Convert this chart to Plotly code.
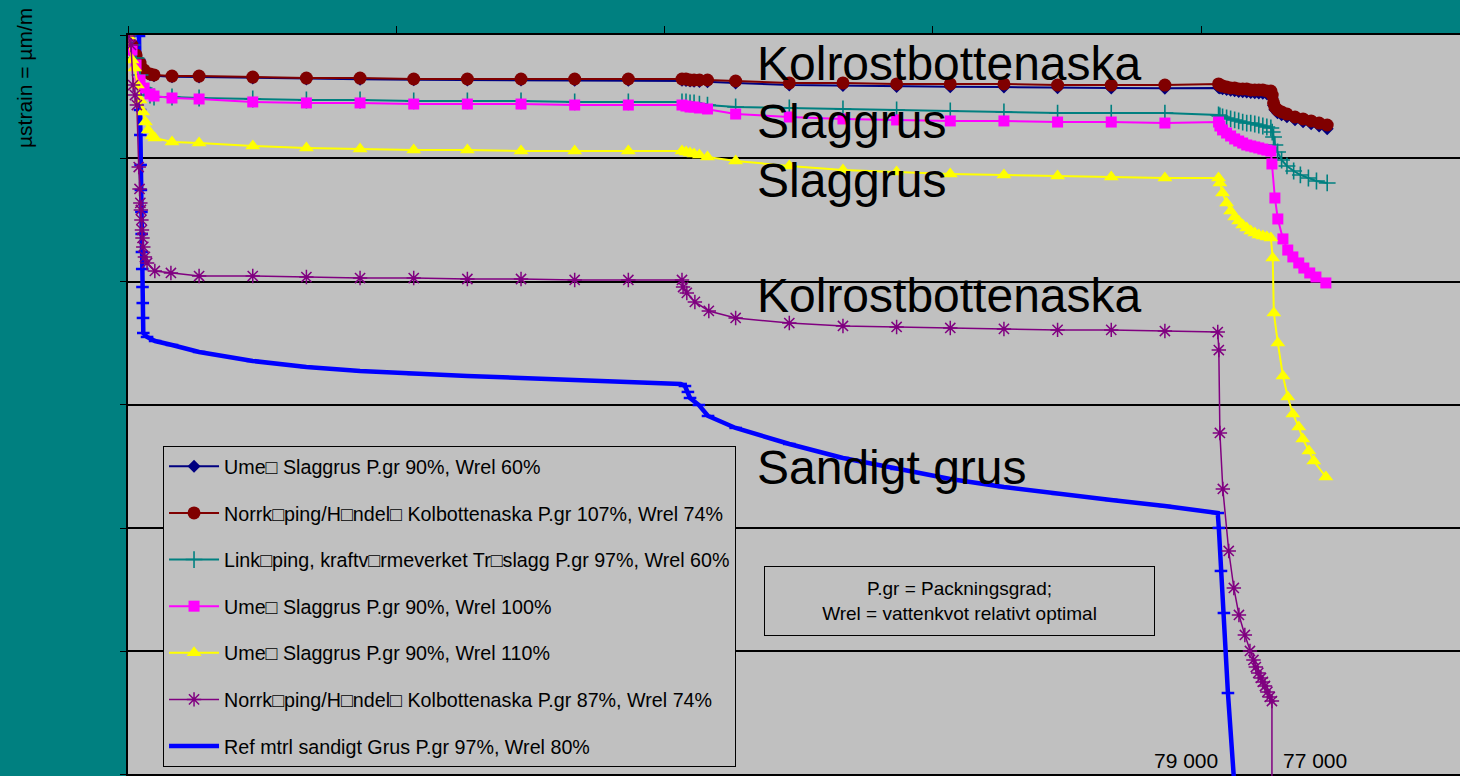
import plotly.graph_objects as go

# ---------------- data (x = load cycles, y = µstrain, axis reversed) ----------------
names = [
    "Ume\u25a1 Slaggrus P.gr 90%, Wrel 60%",
    "Norrk\u25a1ping/H\u25a1ndel\u25a1 Kolbottenaska P.gr 107%, Wrel 74%",
    "Link\u25a1ping, kraftv\u25a1rmeverket Tr\u25a1slagg P.gr 97%, Wrel 60%",
    "Ume\u25a1 Slaggrus P.gr 90%, Wrel 100%",
    "Ume\u25a1 Slaggrus P.gr 90%, Wrel 110%",
    "Norrk\u25a1ping/H\u25a1ndel\u25a1 Kolbottenaska P.gr 87%, Wrel 74%",
    "Ref mtrl sandigt Grus P.gr 97%, Wrel 80%",
]

x_kol107 = [0, 150, 300, 450, 600, 820, 970, 1640,
            2650, 4650, 6650, 8650, 10650, 12650, 14650, 16650, 18650,
            20650, 20800, 20950, 21100, 21300, 21600,
            22650, 24650, 26650, 28650, 30650, 32650, 34650, 36650, 38650,
            40650, 40700, 40800, 40950, 41100, 41250, 41400, 41550, 41700, 41850, 42000, 42150, 42300, 42450, 42600,
            42650, 42700, 42750, 42850, 43000, 43200, 43500, 43800, 44100, 44400, 44700]
y_kol107 = [8, 81, 162, 227, 284, 316, 324, 333,
            333, 341, 349, 349, 357, 357, 357, 357, 357,
            357, 357, 365, 365, 365, 365,
            373, 389, 389, 397, 397, 397, 406, 406, 406,
            397, 406, 414, 422, 430, 430, 438, 438, 438, 446, 446, 446, 446, 454, 454,
            487, 551, 584, 608, 624, 641, 665, 681, 697, 714, 730]

x_ume60 = list(x_kol107)
y_ume60 = [8, 85, 170, 235, 292, 322, 330, 338,
           340, 348, 356, 358, 362, 364, 365, 366, 367,
           368, 370, 374, 376, 378, 380,
           390, 405, 410, 418, 420, 422, 428, 430, 432,
           425, 430, 436, 442, 448, 452, 458, 460, 462, 466, 468, 470, 472, 476, 478,
           510, 572, 606, 630, 646, 664, 688, 704, 720, 738, 760]

x_link = [0, 150, 300, 450, 600, 820, 970, 1640,
          2650, 4650, 6650, 8650, 10650, 12650, 14650, 16650, 18650,
          20650, 20800, 20950, 21100, 21300, 21600,
          22650, 24650, 26650, 28650, 30650, 32650, 34650, 36650, 38650,
          40650, 40700, 40800, 40950, 41100, 41250, 41400, 41550, 41700, 41850, 42000, 42150, 42300, 42450, 42600,
          42650, 42700, 42750, 42850, 43000, 43200, 43450, 43700, 44000, 44300, 44700]
y_link = [8, 81, 187, 324, 430, 487, 503, 503,
          511, 519, 527, 527, 535, 535, 535, 543, 543,
          543, 543, 551, 551, 560, 568,
          584, 592, 600, 608, 616, 624, 633, 633, 633,
          649, 657, 665, 673, 681, 689, 697, 706, 714, 714, 722, 730, 738, 746, 754,
          787, 827, 892, 949, 1014, 1062, 1103, 1135, 1160, 1184, 1200]

x_ume100 = [0, 150, 300, 450, 600, 820, 970, 1640,
            2650, 4650, 6650, 8650, 10650, 12650, 14650, 16650, 18650,
            20650, 20800, 20950, 21100, 21300, 21600,
            22650, 24650, 26650, 28650, 30650, 32650, 34650, 36650, 38650,
            40650, 40700, 40800, 40950, 41100, 41250, 41400, 41550, 41700, 41850, 42000, 42150, 42300, 42450, 42600,
            42640, 42750, 42860, 43050, 43230, 43420, 43640, 43830, 44050, 44280, 44650]
y_ume100 = [8, 122, 243, 365, 430, 478, 495, 511,
            519, 543, 551, 551, 560, 560, 560, 568, 568,
            568, 576, 584, 584, 592, 600,
            641, 665, 681, 689, 697, 697, 706, 706, 714,
            706, 738, 770, 795, 819, 843, 860, 876, 892, 900, 908, 916, 925, 933, 941,
            1046, 1322, 1492, 1654, 1744, 1800, 1849, 1890, 1930, 1963, 2011]

x_ume110 = [0, 150, 250, 350, 450, 550, 650, 750, 900, 1000, 1640,
            2650, 4650, 6650, 8650, 10650, 12650, 14650, 16650, 18650,
            20650, 20800, 20950, 21100, 21300, 21600,
            22650, 24650, 26650, 28650, 30650, 32650, 34650, 36650, 38650,
            40650, 40700, 40800, 40950, 41100, 41250, 41400, 41550, 41700, 41850, 42000, 42150, 42300, 42450, 42600,
            42670, 42710, 42860, 43050, 43230, 43420, 43640, 43790, 44020, 44200, 44650]
y_ume110 = [8, 203, 268, 406, 527, 624, 706, 770, 819, 835, 868,
            876, 900, 916, 925, 933, 933, 941, 941, 941,
            941, 949, 957, 965, 973, 989,
            1022, 1062, 1095, 1111, 1127, 1135, 1144, 1152, 1160,
            1160, 1201, 1282, 1362, 1427, 1476, 1508, 1541, 1565, 1590, 1606, 1622, 1630, 1638, 1646,
            1809, 2255, 2498, 2766, 2936, 3074, 3179, 3276, 3374, 3455, 3585]

x_kol87 = [0, 110, 190, 260, 330, 400, 430, 460, 480, 500, 520, 540, 570, 630, 710, 1000, 1600,
           2650, 4650, 6650, 8650, 10650, 12650, 14650, 16650, 18650,
           20650, 20690, 20830, 21130, 21650,
           22650, 24650, 26650, 28650, 30650, 32650, 34650, 36650, 38650,
           40620, 40660, 40700, 40810, 41030, 41220, 41410, 41630, 41820, 41950, 42040, 42130, 42230,
           42300, 42380, 42470, 42560, 42640, 42640]
y_kol87 = [8, 81, 406, 487, 568, 1071, 1249, 1362, 1419, 1500, 1581, 1646, 1719, 1800, 1849, 1914, 1930,
           1955, 1955, 1963, 1971, 1971, 1979, 1979, 1987, 1987,
           1987, 2044, 2092, 2165, 2238,
           2295, 2336, 2360, 2368, 2376, 2384, 2392, 2392, 2401,
           2409, 2555, 3228, 3682, 4185, 4485, 4704, 4866, 4996, 5069, 5126, 5174, 5215,
           5247, 5280, 5328, 5369, 5402, 6500]

x_ref = [410, 420, 440, 450, 460, 470, 480, 500, 510, 520, 530, 540, 550, 560, 570,
         710, 1010, 1640, 2650, 4650, 6650, 8650, 10650, 12650, 14650, 16650, 18650,
         20600, 20760, 20870, 20950, 21280, 21620,
         22650, 24650, 26650, 28650, 30650, 32650, 34650, 36650, 38650,
         40620, 40660, 40740, 40850, 41000, 41330]
y_ref = [8, 203, 406, 608, 811, 1054, 1257, 1435, 1614, 1760, 1898, 2044, 2174, 2295, 2417,
         2449, 2482, 2514, 2571, 2644, 2693, 2725, 2749, 2766, 2782, 2798, 2814,
         2830, 2847, 2895, 2944, 3001, 3090,
         3187, 3317, 3431, 3520, 3601, 3666, 3722, 3771, 3820,
         3877, 3998, 4347, 4688, 5337, 6366]

labels_big = ["Kolrostbottenaska", "Slaggrus", "Slaggrus", "Kolrostbottenaska", "Sandigt grus"]
cycle_labels = ["79 000", "77 000"]
note_text = "P.gr = Packningsgrad;<br>Wrel = vattenkvot relativt optimal"
y_title = "µstrain = µm/m"

FONT = "Liberation Sans, Arial, sans-serif"

series = [
    (x_ume60, y_ume60, "#000080", dict(symbol="diamond", size=10, color="#000080"), 2),
    (x_kol107, y_kol107, "#800000", dict(symbol="circle", size=13, color="#800000"), 2),
    (x_link, y_link, "#008080", dict(symbol="cross-thin-open", size=12, color="#008080",
                                     line=dict(width=1.6, color="#008080")), 2),
    (x_ume100, y_ume100, "#FF00FF", dict(symbol="square", size=11, color="#FF00FF"), 2),
    (x_ume110, y_ume110, "#FFFF00", dict(symbol="triangle-up", size=13, color="#FFFF00"), 2),
    (x_kol87, y_kol87, "#800080", dict(symbol="asterisk-open", size=12, color="#800080",
                                       line=dict(width=1.5, color="#800080")), 1.5),
    (x_ref, y_ref, "#0000FF", dict(symbol="line-ew-open", size=9, color="#0000FF",
                                   line=dict(width=2.5, color="#0000FF")), 4.5),
]

# draw the reference series underneath, keep legend order via legendrank
draw_order = [6, 0, 1, 2, 3, 4, 5]
fig = go.Figure()
for i in draw_order:
    xs, ys, col, mk, lw = series[i]
    fig.add_trace(go.Scatter(x=xs, y=ys, mode="lines+markers", name=names[i],
                             line=dict(color=col, width=lw), marker=mk,
                             legendgroup=f"g{i}", legendrank=(i + 1) * 10))

ann = []
big_pos = [0.9615, 0.8826, 0.8030, 0.6491, 0.4157]
for t, yp in zip(labels_big, big_pos):
    ann.append(dict(text=t, xref="paper", yref="paper", x=0.4707, y=yp, xanchor="left",
                    yanchor="middle", showarrow=False, font=dict(family=FONT, size=48, color="black")))
for t, xp in zip(cycle_labels, [0.7943, 0.8911]):
    ann.append(dict(text=t, xref="paper", yref="paper", x=xp, y=0.0215, xanchor="center",
                    yanchor="middle", showarrow=False, font=dict(family=FONT, size=21, color="black")))
ann.append(dict(text=note_text, xref="paper", yref="paper", x=0.6239, y=0.2362, xanchor="center",
                yanchor="middle", showarrow=False, width=381, height=60, borderpad=4,
                bordercolor="#000000", borderwidth=1, bgcolor="#C0C0C0", align="center",
                font=dict(family=FONT, size=19, color="black")))
ann.append(dict(text=y_title, xref="paper", yref="paper", x=-0.0773, y=0.942, xanchor="center",
                yanchor="middle", textangle=-90, showarrow=False,
                font=dict(family=FONT, size=21, color="black")))

fig.update_layout(
    width=1460, height=776,
    margin=dict(l=128, r=0, t=35, b=0),
    paper_bgcolor="#008080", plot_bgcolor="#C0C0C0",
    font=dict(family=FONT, color="black"),
    showlegend=True,
    legend=dict(x=0.0263, y=0.4453, xanchor="left", yanchor="top",
                bgcolor="#C0C0C0", bordercolor="#000000", borderwidth=1,
                font=dict(family=FONT, size=19.7, color="black"),
                tracegroupgap=18, itemwidth=50, traceorder="grouped"),
    annotations=ann,
)
fig.update_xaxes(side="top", range=[0, 49650], tick0=0, dtick=10000, ticks="outside", ticklen=7,
                 tickcolor="black", showticklabels=False, showgrid=False, zeroline=False,
                 showline=True, linecolor="black", linewidth=2)
fig.update_yaxes(range=[6010, 0], tick0=0, dtick=1000, ticks="outside", ticklen=6,
                 tickcolor="black", showticklabels=False, showgrid=True, gridcolor="black",
                 gridwidth=2, zeroline=False, showline=True, linecolor="black", linewidth=1.5)

fig.write_html("out.html", config={"displayModeBar": False},
               post_script="document.body.style.margin='0';document.body.style.padding='0';"
                           "document.body.style.background='#008080';")
